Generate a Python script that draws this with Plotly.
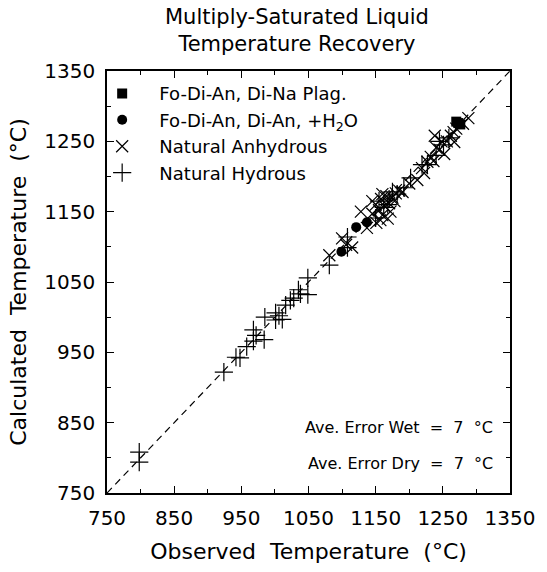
import plotly.graph_objects as go

# ---- data (observed, calculated) in deg C ----
plag_obs = [1270, 1276, 1273]
plag_calc = [1278, 1274, 1276]

wet_obs = [1099, 1121, 1137]
wet_calc = [1093, 1128, 1135]

anh_obs = [1081, 1100, 1115, 1106, 1128, 1137, 1151, 1145, 1150, 1155, 1158, 1160, 1163, 1166,
           1170, 1172, 1175, 1178, 1180, 1185, 1190, 1200, 1212, 1219, 1222, 1227, 1232, 1236,
           1238, 1240, 1245, 1248, 1252, 1256, 1262, 1266, 1267, 1270, 1280, 1288, 1160, 1168,
           1145, 1157]
anh_calc = [1088, 1112, 1099, 1103, 1150, 1127, 1134, 1147, 1160, 1152, 1168, 1145, 1158, 1172,
            1162, 1150, 1170, 1165, 1176, 1180, 1178, 1190, 1195, 1212, 1205, 1221, 1228, 1222,
            1258, 1241, 1238, 1250, 1232, 1250, 1258, 1263, 1249, 1268, 1275, 1283, 1175, 1140,
            1165, 1138]

hyd_obs = [798, 798, 924, 942, 948, 958, 968, 968, 972, 984, 985, 1001, 1001, 1011, 1006, 1016,
           1023, 1028, 1035, 1038, 1049, 1049, 1081, 1108, 1108, 1150, 1155, 1162, 1168, 1175,
           1182, 1192, 1202, 1227, 1219, 1240, 1251, 1259, 1245, 1170]
hyd_calc = [808, 794, 922, 943, 942, 958, 982, 966, 974, 968, 1000, 1006, 996, 997, 1002, 1017,
            1024, 1027, 1039, 1033, 1032, 1056, 1074, 1099, 1114, 1141, 1165, 1156, 1160, 1178,
            1175, 1184, 1198, 1217, 1217, 1230, 1245, 1255, 1250, 1168]

one_to_one = [750, 1350]
tick_vals = [750, 850, 950, 1050, 1150, 1250, 1350]
tick_text = ["750", "850", "950", "1050", "1150", "1250", "1350"]
minor_vals = [800, 900, 1000, 1100, 1200, 1300]

FONT = "DejaVu Sans"
PAD = "\u00a0\u00a0\u00a0"

fig = go.Figure()
fig.add_trace(go.Scatter(x=one_to_one, y=one_to_one, mode="lines",
                         line=dict(color="black", width=1.2, dash="7px,5px"),
                         showlegend=False, hoverinfo="skip"))
fig.add_trace(go.Scatter(x=anh_obs, y=anh_calc, mode="markers", name=PAD + "Natural Anhydrous",
                         marker=dict(symbol="x-thin", size=12, line=dict(color="black", width=1.2)),
                         legendrank=3))
fig.add_trace(go.Scatter(x=hyd_obs, y=hyd_calc, mode="markers", name=PAD + "Natural Hydrous",
                         marker=dict(symbol="cross-thin", size=13, line=dict(color="black", width=1.2)),
                         legendrank=4))
fig.add_trace(go.Scatter(x=plag_obs, y=plag_calc, mode="markers",
                         name=PAD + "Fo-Di-An, Di-Na Plag.",
                         marker=dict(symbol="square", size=10, color="black"),
                         legendrank=1))
fig.add_trace(go.Scatter(x=wet_obs, y=wet_calc, mode="markers",
                         name=PAD + "Fo-Di-An, Di-An, +H<sub>2</sub>O",
                         marker=dict(symbol="circle", size=10, color="black"),
                         legendrank=2))

axis_common = dict(
    range=[750, 1350], tickmode="array", tickvals=tick_vals, ticktext=tick_text,
    ticks="inside", ticklen=7, tickwidth=1, tickcolor="black",
    showline=True, linecolor="black", linewidth=1.5, mirror="ticks",
    showgrid=False, zeroline=False,
    minor=dict(ticks="inside", tickvals=minor_vals, ticklen=4,
               tickcolor="black", showgrid=False),
    tickfont=dict(family=FONT, size=20, color="black"),
)

fig.update_layout(
    width=547, height=572,
    margin=dict(l=107, r=27, t=71, b=79),
    paper_bgcolor="white", plot_bgcolor="white",
    xaxis=dict(**axis_common, ticklabelstandoff=6,
               title=dict(text="Observed  Temperature  (°C)", standoff=15,
                          font=dict(family=FONT, size=22, color="black"))),
    yaxis=dict(**axis_common, ticklabelstandoff=6,
               title=dict(text="Calculated  Temperature  (°C)", standoff=12,
                          font=dict(family=FONT, size=22, color="black"))),
    legend=dict(x=-0.012, y=0.99, xanchor="left", yanchor="top",
                bgcolor="rgba(0,0,0,0)", font=dict(family=FONT, size=18, color="black"),
                itemwidth=30, tracegroupgap=0),
    showlegend=True,
)

fig.add_annotation(text="Multiply-Saturated Liquid<br>Temperature Recovery",
                   x=0.472, y=1, xref="paper", yref="paper", xanchor="center",
                   yanchor="bottom", yshift=13, showarrow=False,
                   font=dict(family=FONT, size=21, color="black"))
fig.add_annotation(text="Ave. Error Wet  =  7  °C", x=0.962, y=0.156, xref="paper", yref="paper",
                   xanchor="right", yanchor="middle", showarrow=False,
                   font=dict(family=FONT, size=16, color="black"))
fig.add_annotation(text="Ave. Error Dry  =  7  °C", x=0.962, y=0.071, xref="paper", yref="paper",
                   xanchor="right", yanchor="middle", showarrow=False,
                   font=dict(family=FONT, size=16, color="black"))

fig.write_html("out.html")
